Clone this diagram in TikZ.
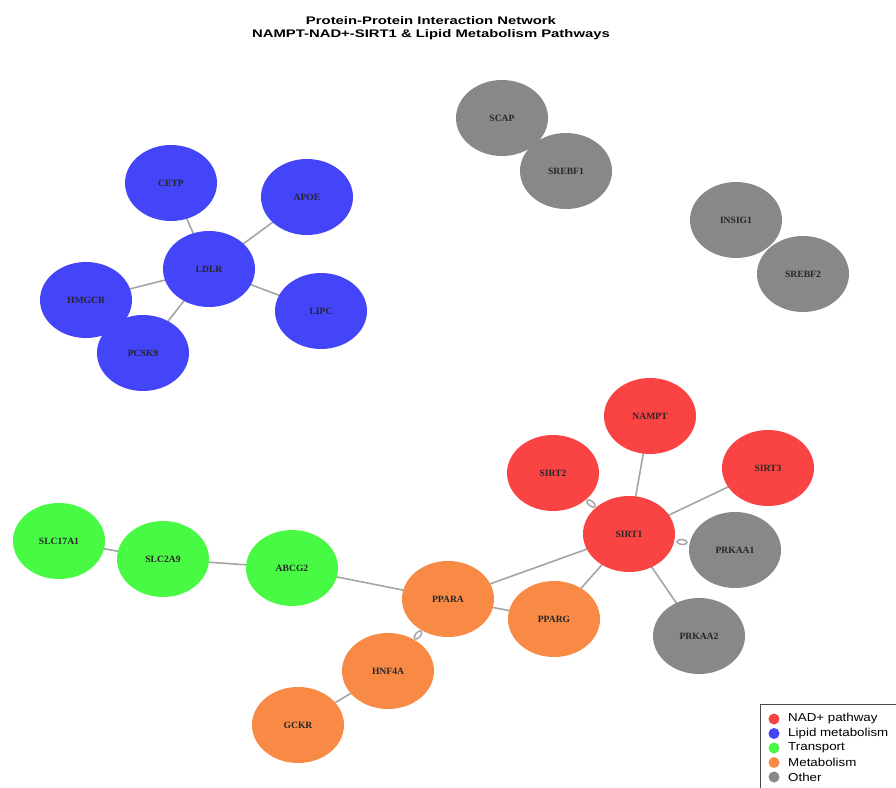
\documentclass[tikz,border=0pt]{standalone}
\usepackage{fontspec}
\setmainfont{Liberation Serif}
\setsansfont{Liberation Sans}
\usetikzlibrary{shapes.geometric,calc}
\definecolor{cred}{RGB}{250,68,68}
\definecolor{cblue}{RGB}{68,68,248}
\definecolor{cgreen}{RGB}{72,250,68}
\definecolor{corange}{RGB}{248,138,70}
\definecolor{cgray}{RGB}{136,136,136}
\definecolor{cedge}{RGB}{165,165,165}
\tikzset{
  prot/.style={ellipse, minimum width=92pt, minimum height=76pt, inner sep=0pt,
    font=\rmfamily\bfseries\fontsize{9.6}{10}\selectfont, text=black!85},
  nadn/.style={prot, fill=cred},
  lipn/.style={prot, fill=cblue},
  trn/.style={prot, fill=cgreen},
  metn/.style={prot, fill=corange},
  othn/.style={prot, fill=cgray},
  edge/.style={draw=cedge, line width=1.6pt},
  loopmark/.style={ellipse, draw=cedge, line width=1.5pt, minimum width=10pt, minimum height=5pt, inner sep=0pt},
  legdot/.style={circle, inner sep=0pt, minimum size=11pt},
  legtxt/.style={anchor=west, font=\sffamily\fontsize{11.5}{12}\selectfont, inner sep=0pt, xscale=1.16}
}
\begin{document}
\begin{tikzpicture}[x=1pt,y=-1pt]
\useasboundingbox (0,0) rectangle (896,787);
\clip (0,0) rectangle (896,787);
\fill[white] (0,0) rectangle (896,787);
% title
\node[font=\sffamily\bfseries\fontsize{11}{13.5}\selectfont, align=center, xscale=1.35] (title) at (431,28)
  {Protein-Protein Interaction Network\\NAMPT-NAD+-SIRT1 \& Lipid Metabolism Pathways};
% coordinates
\coordinate (pSCAP) at (502,118);
\coordinate (pSREBF1) at (566,171);
\coordinate (pINSIG1) at (736,220);
\coordinate (pSREBF2) at (803,274);
\coordinate (pCETP) at (171,183);
\coordinate (pAPOE) at (307,197);
\coordinate (pLDLR) at (209,269);
\coordinate (pHMGCR) at (86,300);
\coordinate (pLIPC) at (321,311);
\coordinate (pPCSK9) at (143,353);
\coordinate (pNAMPT) at (650,416);
\coordinate (pSIRT2) at (553,473);
\coordinate (pSIRT3) at (768,468);
\coordinate (pSIRT1) at (629,534);
\coordinate (pPRKAA1) at (735,550);
\coordinate (pPRKAA2) at (699,636);
\coordinate (pPPARG) at (554,619);
\coordinate (pPPARA) at (448,599);
\coordinate (pABCG2) at (292,568);
\coordinate (pSLC2A9) at (163,559);
\coordinate (pSLC17A1) at (59,541);
\coordinate (pHNF4A) at (388,671);
\coordinate (pGCKR) at (298,725);
% edges (behind nodes)
\draw[edge] (pCETP) -- (pLDLR);
\draw[edge] (pAPOE) -- (pLDLR);
\draw[edge] (pHMGCR) -- (pLDLR);
\draw[edge] (pLIPC) -- (pLDLR);
\draw[edge] (pPCSK9) -- (pLDLR);
\draw[edge] (pNAMPT) -- (pSIRT1);
\draw[edge] (pSIRT3) -- (pSIRT1);
\draw[edge] (pPRKAA2) -- (pSIRT1);
\draw[edge] (pPPARG) -- (pSIRT1);
\draw[edge] (pPPARA) -- (pSIRT1);
\draw[edge] (pPPARA) -- (pPPARG);
\draw[edge] (pPPARA) -- (pABCG2);
\draw[edge] (pABCG2) -- (pSLC2A9);
\draw[edge] (pSLC2A9) -- (pSLC17A1);
\draw[edge] (pHNF4A) -- (pGCKR);
% nodes
\node[othn] (SCAP) at (pSCAP) {SCAP};
\node[othn] (SREBF1) at (pSREBF1) {SREBF1};
\node[othn] (INSIG1) at (pINSIG1) {INSIG1};
\node[othn] (SREBF2) at (pSREBF2) {SREBF2};
\node[lipn] (CETP) at (pCETP) {CETP};
\node[lipn] (APOE) at (pAPOE) {APOE};
\node[lipn] (LDLR) at (pLDLR) {LDLR};
\node[lipn] (HMGCR) at (pHMGCR) {HMGCR};
\node[lipn] (LIPC) at (pLIPC) {LIPC};
\node[lipn] (PCSK9) at (pPCSK9) {PCSK9};
\node[nadn] (NAMPT) at (pNAMPT) {NAMPT};
\node[nadn] (SIRT2) at (pSIRT2) {SIRT2};
\node[nadn] (SIRT3) at (pSIRT3) {SIRT3};
\node[nadn] (SIRT1) at (pSIRT1) {SIRT1};
\node[othn] (PRKAA1) at (pPRKAA1) {PRKAA1};
\node[othn] (PRKAA2) at (pPRKAA2) {PRKAA2};
\node[metn] (PPARG) at (pPPARG) {PPARG};
\node[metn] (PPARA) at (pPPARA) {PPARA};
\node[trn] (ABCG2) at (pABCG2) {ABCG2};
\node[trn] (SLC2A9) at (pSLC2A9) {SLC2A9};
\node[trn] (SLC17A1) at (pSLC17A1) {SLC17A1};
\node[metn] (HNF4A) at (pHNF4A) {HNF4A};
\node[metn] (GCKR) at (pGCKR) {GCKR};
% loop markers between touching nodes
\node[loopmark, rotate=-38] (mk1) at ($(SIRT2)!0.5!(SIRT1)$) {};
\node[loopmark, rotate=-5] (mk2) at ($(SIRT1)!0.5!(PRKAA1)$) {};
\node[loopmark, rotate=50] (mk3) at ($(PPARA)!0.5!(HNF4A)$) {};
% legend
\draw[black!70, line width=0.6pt] (760,704) rectangle (905,800);
\node[legdot, fill=cred] (d1) at (774,719) {};
\node[legdot, fill=cblue] (d2) at (774,733.5) {};
\node[legdot, fill=cgreen] (d3) at (774,748) {};
\node[legdot, fill=corange] (d4) at (774,762.5) {};
\node[legdot, fill=cgray] (d5) at (774,777) {};
\node[legtxt] (t1) at (788,719) {NAD+ pathway};
\node[legtxt] (t2) at (788,733.5) {Lipid metabolism};
\node[legtxt] (t3) at (788,748) {Transport};
\node[legtxt] (t4) at (788,762.5) {Metabolism};
\node[legtxt] (t5) at (788,777) {Other};
\end{tikzpicture}
\end{document}
